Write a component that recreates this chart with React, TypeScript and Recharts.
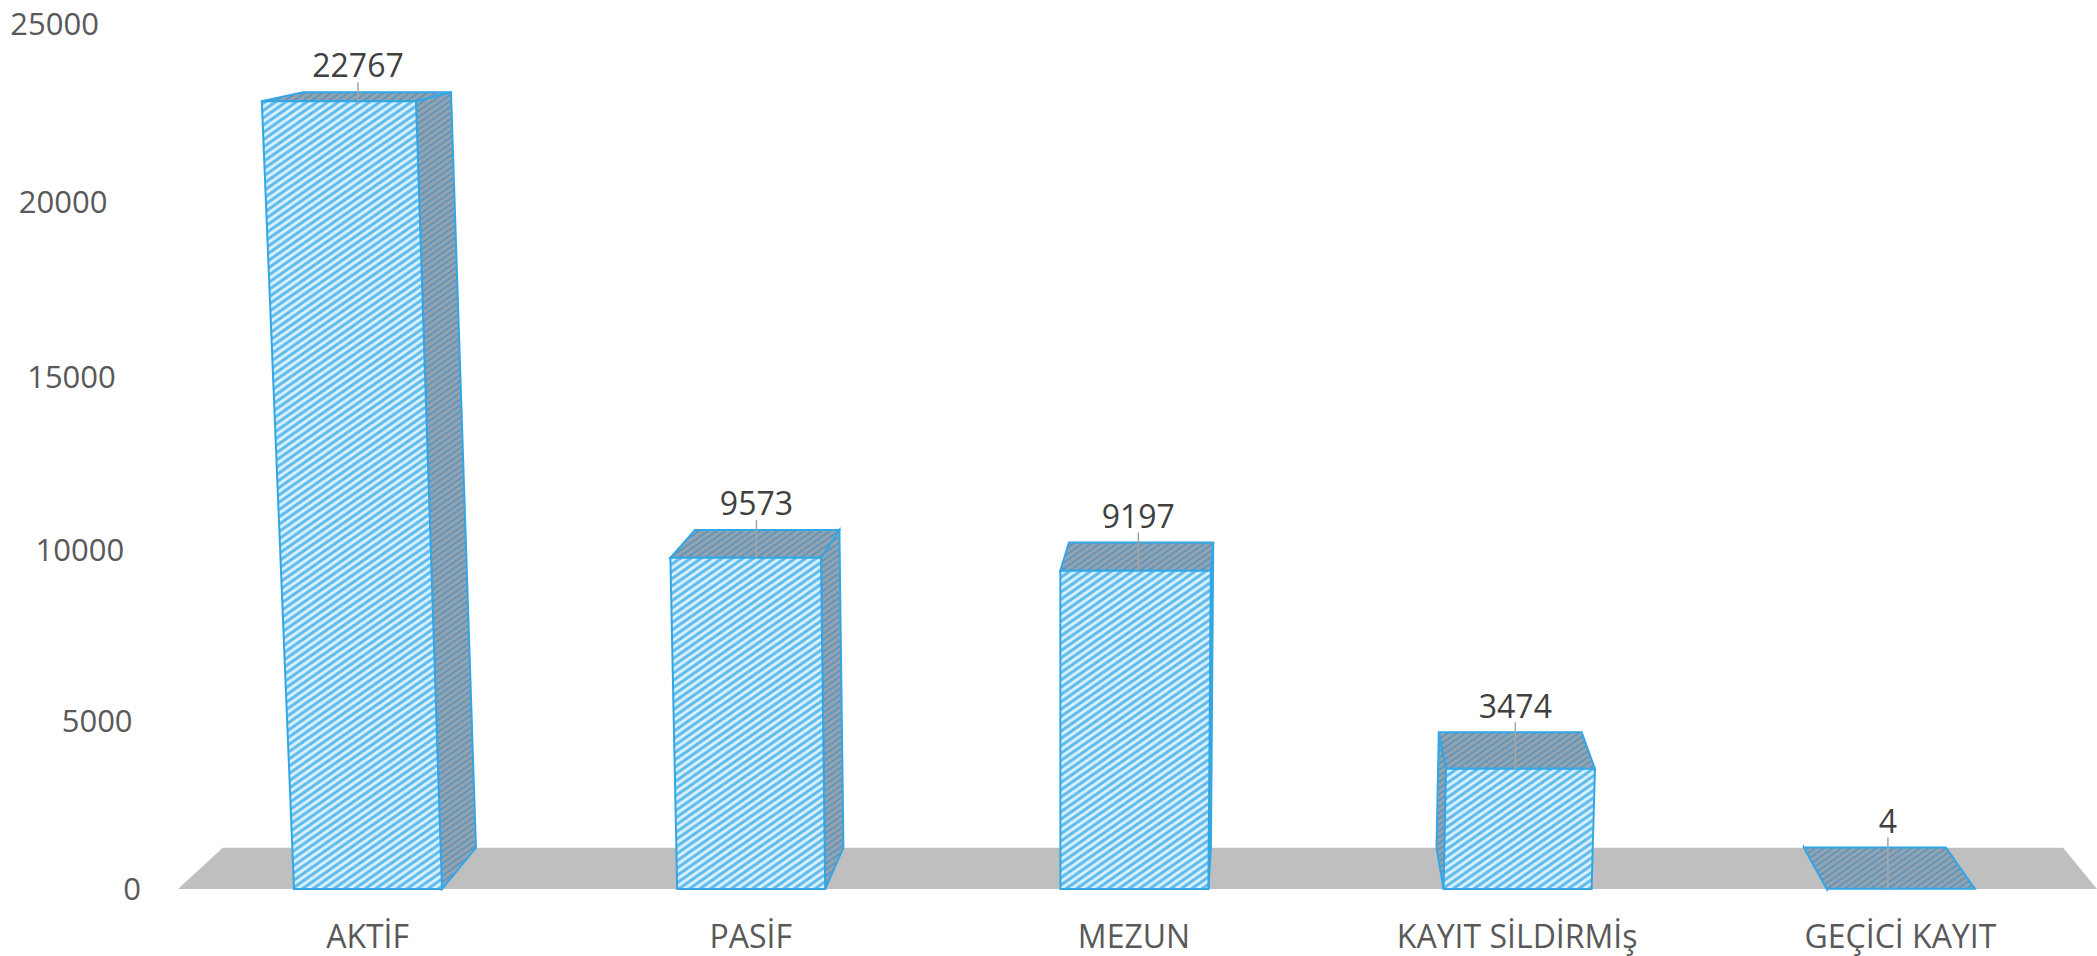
import { BarChart, Bar, XAxis, YAxis, ReferenceLine, LabelList } from 'recharts';

const categories = ['AKTİF', 'PASİF', 'MEZUN', 'KAYIT SİLDİRMİş', 'GEÇİCİ KAYIT'];
const counts = [22767, 9573, 9197, 3474, 4];
const yTicks = [0, 5000, 10000, 15000, 20000, 25000];

const FONT = '"Open Sans", "Noto Sans", sans-serif';
const EDGE = '#33a6e6';
const FLOOR = '#bfbfbf';

// fake perspective: verticals lean toward a point far below (CX), depth shrinks toward (VX, VY)
const CX = 1065;
const K = 5.3e-5;
const VX = 1270;
const VY = -120;
const S = 0.959;
type P = [number, number];
const proj = (p: P): P => [VX + (p[0] - VX) * S, VY + (p[1] - VY) * S];
const lean = (px: number, h: number) => CX + (px - CX) * (1 + K * h);
const pts = (list: P[]) => list.map((p) => p.join(',')).join(' ');

const chartData = categories.map((name, i) => ({ name, count: counts[i] }));

function corners(x: number, y: number, w: number, h: number) {
  const bl: P = [x, y + h];
  const br: P = [x + w, y + h];
  const tl: P = [lean(x, h), y];
  const tr: P = [lean(x + w, h), y];
  return { bl, br, tl, tr };
}

function Bar3D(props: any) {
  const { x, y, width: w, height: h } = props;
  if (x == null || y == null) return null;
  const { bl, br, tl, tr } = corners(x, y, w, h);
  const tl2 = proj(tl);
  const tr2 = proj(tr);
  const bl2 = proj(bl);
  const br2 = proj(br);

  let side = null;
  if (x + w < VX - 40) {
    side = <polygon points={pts([tr, br, br2, tr2])} fill="url(#hatchDark)" stroke={EDGE} strokeWidth={2} />;
  } else if (x > VX) {
    side = <polygon points={pts([tl, bl, bl2, tl2])} fill="url(#hatchDark)" stroke={EDGE} strokeWidth={2} />;
  }
  const topCx = (tl[0] + tr[0] + tl2[0] + tr2[0]) / 4;

  return (
    <g>
      {side}
      <polygon points={pts([tl, tr, tr2, tl2])} fill="url(#hatchDark)" stroke={EDGE} strokeWidth={2} />
      {h > 1 && <polygon points={pts([tl, tr, br, bl])} fill="url(#hatchLight)" stroke={EDGE} strokeWidth={2} />}
      <line x1={topCx} y1={tl2[1] - 10} x2={topCx} y2={tl[1]} stroke="#a6a6a6" strokeWidth={1.5} />
    </g>
  );
}

function ValueLabel(props: any) {
  const vb = props.viewBox ?? props;
  const x = vb.x ?? props.x;
  const y = vb.y ?? props.y;
  const w = vb.width ?? props.width;
  const h = vb.height ?? props.height;
  const { tl, tr } = corners(x, y, w, h);
  const tl2 = proj(tl);
  const tr2 = proj(tr);
  const cx = (tl[0] + tr[0] + tl2[0] + tr2[0]) / 4;
  return (
    <text x={cx} y={tl2[1] - 26} dy="0.35em" textAnchor="middle" fill="#404040" fontSize={32} fontFamily={FONT} fontWeight={500}>
      {props.value}
    </text>
  );
}

function YTick({ y, payload }: any) {
  const v = payload.value as number;
  const right = 141 - (v / 25000) * 42;
  const nudge = 8 * Math.sin((Math.PI * v) / 25000);
  return (
    <text x={right} y={y + nudge} dy="0.35em" textAnchor="end" fill="#595959" fontSize={31} fontFamily={FONT} fontWeight={500}>
      {v}
    </text>
  );
}

function Floor(props: any) {
  const y = props.y1 ?? 889;
  const left = (props.x1 ?? 176) + 2;
  const right = 2097;
  const a: P = [left, y];
  const b: P = [right, y];
  return <polygon points={pts([a, b, proj(b), proj(a)])} fill={FLOOR} stroke="none" />;
}

export default function App() {
  return (
    <div style={{ position: 'absolute', left: 0, top: 0, background: '#fff' }}>
      <BarChart
        width={2097}
        height={956}
        data={chartData}
        margin={{ top: 24, right: 5, bottom: 0, left: 0 }}
        barSize={148}
      >
        <defs>
          <pattern id="hatchLight" patternUnits="userSpaceOnUse" width={6} height={6} patternTransform="rotate(-35)">
            <rect width={6} height={6} fill="#d6effc" />
            <rect width={6} height={3} fill="#62bcee" />
          </pattern>
          <pattern id="hatchDark" patternUnits="userSpaceOnUse" width={5} height={5} patternTransform="rotate(-35)">
            <rect width={5} height={5} fill="#97a3ac" />
            <rect width={5} height={2} fill="#5f96c0" />
          </pattern>
        </defs>
        <ReferenceLine y={0} shape={<Floor />} zIndex={-1} />
        <XAxis
          dataKey="name"
          axisLine={false}
          tickLine={false}
          tickMargin={30}
          height={67}
          interval={0}
          tick={{ fill: '#595959', fontSize: 32, fontFamily: FONT, fontWeight: 500 }}
        />
        <YAxis
          width={176}
          domain={[0, 25000]}
          ticks={yTicks}
          axisLine={false}
          tickLine={false}
          tick={<YTick />}
        />
        <Bar dataKey="count" shape={<Bar3D />} isAnimationActive={false}>
          <LabelList dataKey="count" content={<ValueLabel />} />
        </Bar>
      </BarChart>
    </div>
  );
}
